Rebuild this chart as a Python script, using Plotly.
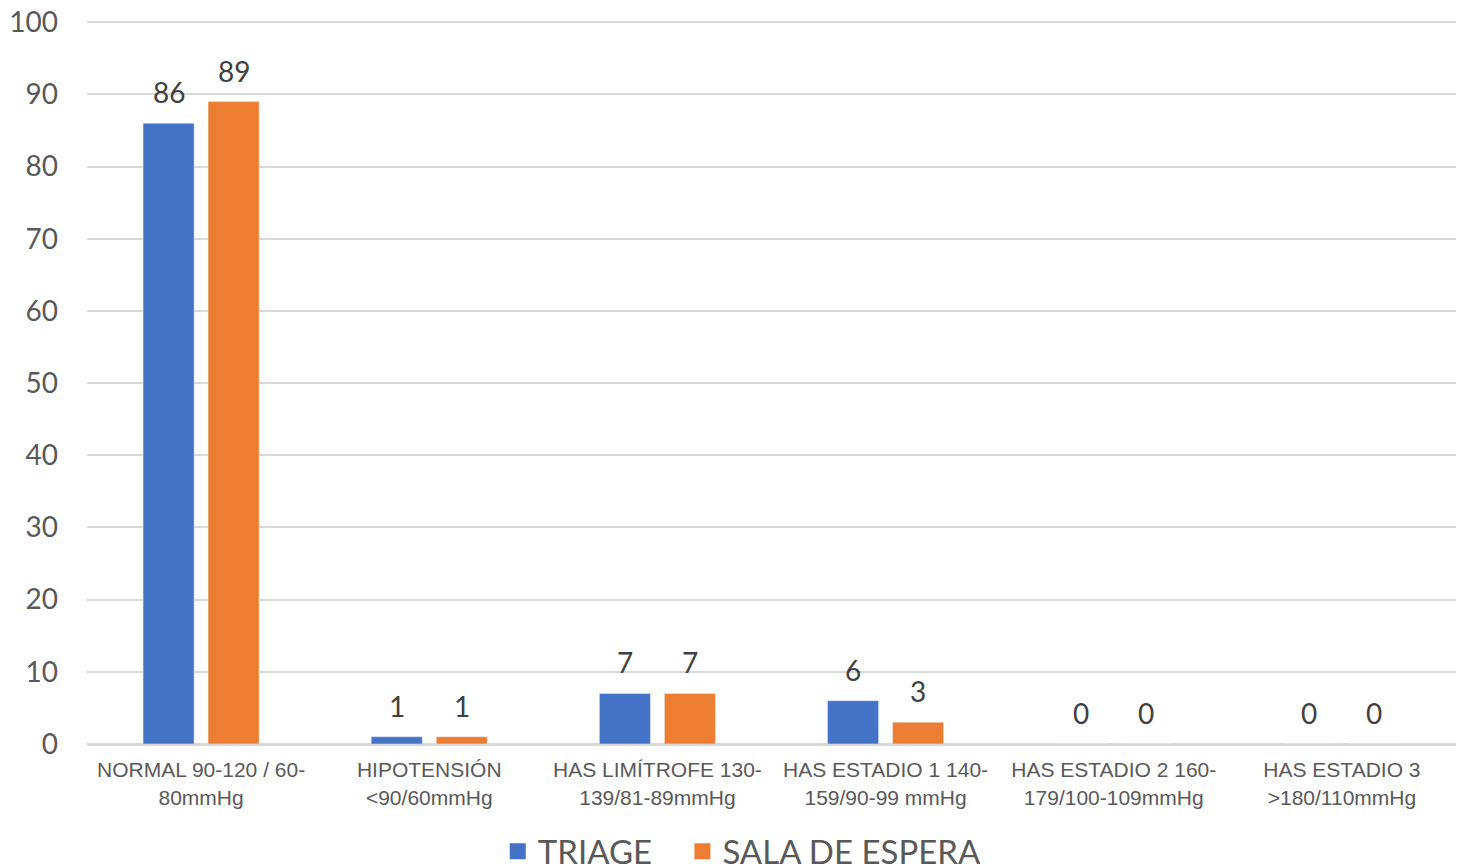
import plotly.graph_objects as go

categories = [
    "NORMAL 90-120 / 60-<br>80mmHg",
    "HIPOTENSIÓN<br><90/60mmHg",
    "HAS LIMÍTROFE 130-<br>139/81-89mmHg",
    "HAS ESTADIO 1 140-<br>159/90-99 mmHg",
    "HAS ESTADIO 2 160-<br>179/100-109mmHg",
    "HAS ESTADIO 3<br>>180/110mmHg",
]
triage = [86, 1, 7, 6, 0, 0]
sala_espera = [89, 1, 7, 3, 0, 0]

series = [("TRIAGE", triage, "#4472C4"), ("SALA DE ESPERA", sala_espera, "#ED7D31")]

BARGAP = 0.43
num_font = dict(family="Lato, Open Sans, sans-serif", size=28, color="#404040")

fig = go.Figure()
for name, values, color in series:
    fig.add_trace(go.Bar(
        name=name, x=categories, y=values,
        marker=dict(color=color), showlegend=False,
    ))

# value labels above each bar, placed at the bar heights
slot = (1 - BARGAP) / len(series)
for k, (name, values, color) in enumerate(series):
    shift = -(1 - BARGAP) / 2 + slot * (k + 0.5)
    for i, v in enumerate(values):
        fig.add_annotation(
            x=i + shift, y=v, xref="x", yref="y",
            text=str(v), showarrow=False, yanchor="bottom", yshift=12,
            font=num_font,
        )

# legend entries with larger square swatches; trailing spaces widen the gap
for k, (name, values, color) in enumerate(series):
    label = name + ("\u00a0" * 3 if k < len(series) - 1 else "")
    fig.add_trace(go.Scatter(
        name=label, x=[None], y=[None], mode="markers",
        marker=dict(symbol="square", size=16, color=color),
    ))

fig.update_layout(
    width=1464, height=866,
    margin=dict(l=87, r=8, t=20, b=122, autoexpand=False),
    paper_bgcolor="white", plot_bgcolor="white",
    barmode="group", bargap=BARGAP, bargroupgap=0.215,
    showlegend=True,
    legend=dict(
        orientation="h", xref="container", x=0.507, xanchor="center",
        yref="container", y=0.017, yanchor="middle",
        font=dict(family="Lato, Open Sans, sans-serif", size=33, color="#595959"),
        itemwidth=30, traceorder="normal", itemsizing="trace",
    ),
)
fig.update_xaxes(
    showgrid=False, showline=True, linecolor="#d9d9d9", linewidth=2,
    tickfont=dict(family="Liberation Sans, Arial, sans-serif", size=21, color="#595959"),
    ticks="", tickangle=0, ticklabelstandoff=6, automargin=False,
)
fig.update_yaxes(
    range=[0, 100.3], dtick=10, showgrid=True, gridcolor="#d9d9d9", gridwidth=1.5,
    zeroline=True, zerolinecolor="#d9d9d9", zerolinewidth=2,
    showline=False, ticks="", ticklabelstandoff=28, automargin=False,
    tickfont=dict(family="Lato, Open Sans, sans-serif", size=28, color="#595959"),
)

fig.write_html("out.html")
